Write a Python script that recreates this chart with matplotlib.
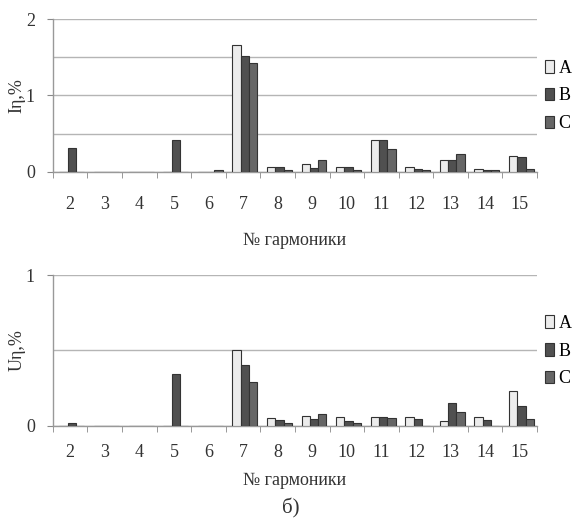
import numpy as np
import matplotlib.pyplot as plt
from matplotlib.ticker import MultipleLocator

plt.rcParams['font.family'] = ['Liberation Serif', 'DejaVu Serif']

harmonics = [2, 3, 4, 5, 6, 7, 8, 9, 10, 11, 12, 13, 14, 15]
series = ['A', 'B', 'C']

# currents, %
i_a = [0, 0, 0, 0, 0, 1.66, 0.06, 0.11, 0.06, 0.42, 0.06, 0.15, 0.04, 0.21]
i_b = [0.31, 0, 0, 0.42, 0, 1.52, 0.06, 0.05, 0.06, 0.42, 0.04, 0.15, 0.02, 0.19]
i_c = [0, 0, 0, 0, 0.02, 1.43, 0.03, 0.15, 0.03, 0.30, 0.03, 0.24, 0.02, 0.04]

# voltages, %
u_a = [0, 0, 0, 0, 0, 0.50, 0.05, 0.065, 0.055, 0.06, 0.055, 0.03, 0.055, 0.23]
u_b = [0.02, 0, 0, 0.34, 0, 0.40, 0.04, 0.045, 0.03, 0.06, 0.045, 0.15, 0.035, 0.13]
u_c = [0, 0, 0, 0, 0, 0.29, 0.02, 0.08, 0.015, 0.05, 0, 0.09, 0, 0.045]

colors = ['#ececec', '#505050', '#666666']
edge = '#333333'
grid_c = '#b5b5b5'
txt_c = '#333333'


def draw(ax, data, ymax, ylabel, xpad, xlabpad, legend_y):
    x = np.arange(len(harmonics))
    w = 0.24
    for k, vals in enumerate(data):
        ax.bar(x + (k - 1) * w + 0.05, vals, w, color=colors[k], edgecolor=edge,
               linewidth=0.8, label=series[k], zorder=3)
    ax.set_xlim(-0.5, len(harmonics) - 0.5)
    ax.set_ylim(0, ymax)
    ax.yaxis.set_major_locator(MultipleLocator(1))
    ax.yaxis.set_minor_locator(MultipleLocator(0.5))
    ax.grid(axis='y', which='both', color=grid_c, linewidth=1, zorder=0)
    ax.set_xticks(x)
    ax.set_xticklabels([str(h) for h in harmonics])
    ax.set_xticks(np.arange(-0.5, len(harmonics)), minor=True)
    ax.tick_params(axis='x', which='major', length=0, pad=xpad, labelsize=13, labelcolor=txt_c)
    ax.tick_params(axis='x', which='minor', length=4, color='#888888', direction='out')
    ax.tick_params(axis='y', which='major', length=4, color='#888888', pad=9,
                   labelsize=13, labelcolor=txt_c)
    ax.tick_params(axis='y', which='minor', length=0)
    for s in ['top', 'right']:
        ax.spines[s].set_visible(False)
    for s in ['left', 'bottom']:
        ax.spines[s].set_color('#999999')
        ax.spines[s].set_linewidth(1)
    ax.set_xlabel('№ гармоники', fontsize=13, color=txt_c, labelpad=xlabpad)
    ax.set_ylabel(ylabel, fontsize=13, color=txt_c, labelpad=0)
    ax.legend(loc='center left', bbox_to_anchor=(0.948, legend_y),
              bbox_transform=ax.figure.transFigure, frameon=False, fontsize=13,
              handlelength=0.5, handleheight=0.7, handletextpad=0.25,
              labelspacing=0.6, borderaxespad=0, borderpad=0)


fig = plt.figure(figsize=(5.75, 5.21), dpi=100)
ax1 = fig.add_axes([0.092, 0.670, 0.842, 0.2935])
ax2 = fig.add_axes([0.092, 0.183, 0.842, 0.289])

draw(ax1, [i_a, i_b, i_c], 2, 'Iη,%', 17, 14, 1 - 96 / 521)
draw(ax2, [u_a, u_b, u_c], 1, 'Uη,%', 13, 8, 1 - 351 / 521)

fig.text(0.505, 1 - 508 / 521, 'б)', fontsize=15, ha='center', va='center', color=txt_c)

fig.savefig('out.png', dpi=100, facecolor='white')
